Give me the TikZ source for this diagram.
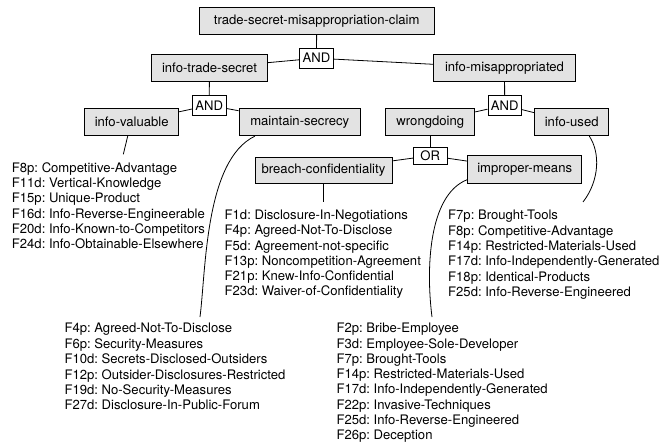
\documentclass[tikz,border=0pt]{standalone}
\usepackage{fontspec}
\setmainfont{TeX Gyre Heros}
\frenchspacing
\newcommand{\diafont}{\fontsize{13.1}{15.3}\selectfont}

\begin{document}
\begin{tikzpicture}[x=1pt,y=-1pt,
    goal/.style={draw,line width=0.9pt,fill=black!11,minimum height=27.4pt,inner sep=0pt,font=\diafont},
    conn/.style={draw,line width=0.9pt,fill=white,minimum width=33.5pt,minimum height=19.5pt,inner sep=0pt,font=\diafont},
    factor/.style={anchor=base west,inner sep=0pt,font=\diafont},
    link/.style={line width=0.8pt}]
    \useasboundingbox (0,0) rectangle (669,442);

    % claim and its two parts
    \node[goal,minimum width=235pt] (claim) at (316.7,21) {trade-secret-misappropriation-claim};
    \node[conn] (and1) at (316.5,58.2) {AND};
    \node[goal,minimum width=115.6pt] (secret) at (209.5,68) {info-trade-secret};
    \node[goal,minimum width=141.6pt] (misapp) at (504.5,68) {info-misappropriated};
    \draw[link] (claim) -- (and1);
    \draw[link] (and1) -- (secret);
    \draw[link] (and1) -- (misapp);

    % info-trade-secret
    \node[conn] (and2) at (209.2,105.3) {AND};
    \node[goal,minimum width=94pt] (valuable) at (131.7,122) {info-valuable};
    \node[goal,minimum width=121.3pt] (secrecy) at (299.7,122) {maintain-secrecy};
    \draw[link] (secret) -- (and2);
    \draw[link] (and2) -- (valuable);
    \draw[link] (and2) -- (secrecy);

    % info-misappropriated
    \node[conn] (and3) at (504.7,105.3) {AND};
    \node[goal,minimum width=89pt] (wrong) at (430.3,122) {wrongdoing};
    \node[goal,minimum width=74pt] (used) at (571.7,122) {info-used};
    \draw[link] (misapp) -- (and3);
    \draw[link] (and3) -- (wrong);
    \draw[link] (and3) -- (used);

    % wrongdoing
    \node[conn,minimum height=17.5pt] (or) at (430.3,155.7) {OR};
    \node[goal,minimum width=137pt,minimum height=26.7pt] (breach) at (323.5,170.3) {breach-confidentiality};
    \node[goal,minimum width=114pt] (improper) at (524.7,169.5) {improper-means};
    \draw[link] (wrong) -- (or);
    \draw[link] (or) -- (breach);
    \draw[link] (or) -- (improper);

    % factor lists
    \foreach \t [count=\i] in {F8p: Competitive-Advantage,F11d: Vertical-Knowledge,F15p: Unique-Product,
        F16d: Info-Reverse-Engineerable,F20d: Info-Known-to-Competitors,F24d: Info-Obtainable-Elsewhere}{
        \node[factor] (valuable-f\i) at (11.7,{172.2+15.3*(\i-1)}) {\t};
    }
    \foreach \t [count=\i] in {F4p: Agreed-Not-To-Disclose,F6p: Security-Measures,F10d: Secrets-Disclosed-Outsiders,
        F12p: Outsider-Disclosures-Restricted,F19d: No-Security-Measures,F27d: Disclosure-In-Public-Forum}{
        \node[factor] (secrecy-f\i) at (64.3,{332.8+15.4*(\i-1)}) {\t};
    }
    \foreach \t [count=\i] in {F1d: Disclosure-In-Negotiations,F4p: Agreed-Not-To-Disclose,F5d: Agreement-not-specific,
        F13p: Noncompetition-Agreement,F21p: Knew-Info-Confidential,F23d: Waiver-of-Confidentiality}{
        \node[factor] (breach-f\i) at (224.5,{219.8+15.1*(\i-1)}) {\t};
    }
    \foreach \t [count=\i] in {F7p: Brought-Tools,F8p: Competitive-Advantage,F14p: Restricted-Materials-Used,
        F17d: Info-Independently-Generated,F18p: Identical-Products,F25d: Info-Reverse-Engineered}{
        \node[factor] (used-f\i) at (448,{219.8+15.3*(\i-1)}) {\t};
    }
    \foreach \t [count=\i] in {F2p: Bribe-Employee,F3d: Employee-Sole-Developer,F7p: Brought-Tools,
        F14p: Restricted-Materials-Used,F17d: Info-Independently-Generated,F22p: Invasive-Techniques,
        F25d: Info-Reverse-Engineered,F26p: Deception}{
        \node[factor] (improper-f\i) at (336.3,{332.8+15.25*(\i-1)}) {\t};
    }

    % leads to the lists
    \coordinate (valuable-end) at (123.3,154.3);
    \coordinate (secrecy-end) at (200,317);
    \coordinate (breach-end) at (323.5,202);
    \coordinate (used-end) at (583,202);
    \coordinate (improper-end) at (432,317);
    \draw[link] ([xshift=-4pt]valuable.south) -- (valuable-end);
    \draw[link] ([xshift=16.3pt]secrecy.south west) .. controls (205,160) and (206,270) .. (secrecy-end);
    \draw[link] (breach) -- (breach-end);
    \draw[link] ([xshift=17.6pt]used.south) .. controls (600,152) and (600,180) .. (used-end);
    \draw[link] ([yshift=4pt]improper.south west) .. controls (428,195) and (426,270) .. (improper-end);
\end{tikzpicture}
\end{document}
